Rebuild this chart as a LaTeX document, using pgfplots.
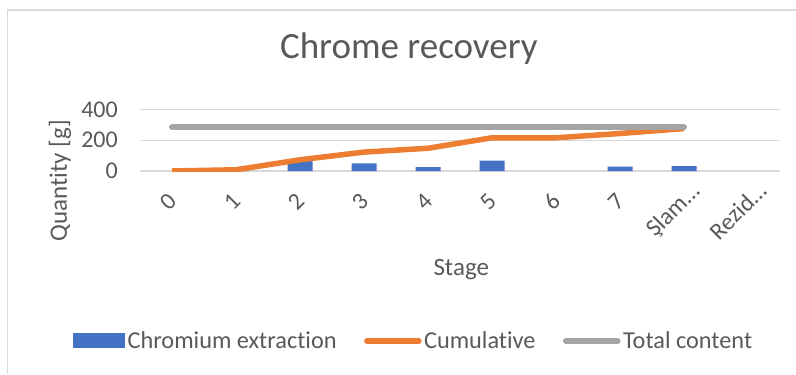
\documentclass[border=0pt]{standalone}
\usepackage{fontspec}
\setmainfont{Carlito}[Ligatures=NoCommon]
\usepackage{pgfplots}
\pgfplotsset{compat=1.18}
\definecolor{barblue}{HTML}{4472C4}
\definecolor{cumorange}{HTML}{ED7D31}
\definecolor{totalgray}{HTML}{A5A5A5}
\definecolor{gridgray}{HTML}{D9D9D9}
\definecolor{textgray}{HTML}{595959}

% chromium extracted per stage [g] (stages 0 and 6 yield nothing)
\pgfplotstableread{
x y
1 8
2 65
3 50
4 25
5 68
7 28
8 32
}\extraction
% running total [g]
\pgfplotstableread{
x y
0 0
1 8
2 73
3 123
4 148
5 216
6 216
7 244
8 276
}\cumulative
% chromium content of the input [g]
\pgfplotstableread{
x y
0 285
1 285
2 285
3 285
4 285
5 285
6 285
7 285
8 285
}\totalcontent

\begin{document}
\begin{tikzpicture}[x=1bp,y=1bp]
\useasboundingbox (0,0) rectangle (796,374);
\draw[gridgray, line width=1.3bp] (7.5,0) -- (7.5,364) -- (796,364);
\begin{axis}[
  at={(140bp,203bp)}, anchor=south west,
  scale only axis, width=640bp, height=61.5bp,
  xmin=-0.5, xmax=9.5, ymin=0, ymax=400,
  xtick={0,...,7},
  xticklabels={0,1,2,3,4,5,6,7},
  extra x ticks={8,9},
  extra x tick labels={Şlam…,Rezid…},
  % the longer labels sit a little lower and to the left (shift given in the rotated frame)
  extra x tick style={xticklabel style={xshift=-10.6bp, yshift=-2.1bp}},
  ytick={0,200,400},
  axis line style={draw=none},
  major tick length=0pt,
  ymajorgrids, grid style={gridgray, line width=1.3bp},
  /pgf/number format/assume math mode=true,
  every tick label/.append style={font=\fontsize{24bp}{28bp}\selectfont, text=textgray},
  yticklabel style={anchor=east, inner sep=0pt, xshift=-22bp},
  xticklabel style={inner sep=0pt, yshift=-31bp, xshift=-4bp, rotate=45, anchor=center},
  title={Chrome recovery},
  title style={at={(axis description cs:0.42,1.886)}, anchor=center,
    font=\fontsize{37bp}{42bp}\selectfont, text=textgray},
  xlabel={Stage},
  xlabel style={at={(axis description cs:0.502,-1.61)}, anchor=center,
    font=\fontsize{25bp}{30bp}\selectfont, text=textgray},
  ylabel={Quantity [g]},
  ylabel style={at={(axis description cs:-0.125,-0.16)}, anchor=center,
    font=\fontsize{25bp}{30bp}\selectfont, text=textgray},
  legend columns=3,
  legend style={at={(axis description cs:0.428,-2.764)}, anchor=center,
    draw=none, fill=none, inner sep=0pt,
    font=\fontsize{24.3bp}{28bp}\selectfont, text=textgray,
    nodes={inner sep=2.5bp},
    /tikz/every even column/.append style={column sep=25bp}},
  legend cell align=left,
]
\addplot[ybar, bar width=25bp, bar shift=0pt, fill=barblue, draw=none,
  legend image code/.code={\fill[barblue] (0bp,-7.5bp) rectangle (52bp,7.5bp);}]
  table[x=x, y=y] {\extraction};
\addlegendentry{Chromium extraction}
\addplot[cumorange, line width=5.5bp, line join=round, line cap=butt,
  legend image code/.code={\draw[cumorange, line width=5.5bp, line cap=round] (3bp,0bp) -- (55bp,0bp);}]
  table[x=x, y=y] {\cumulative};
\addlegendentry{Cumulative}
\addplot[totalgray, line width=6bp, line join=round, line cap=round,
  legend image code/.code={\draw[totalgray, line width=5.5bp, line cap=round] (3bp,0bp) -- (55bp,0bp);}]
  table[x=x, y=y] {\totalcontent};
\addlegendentry{Total content}
\end{axis}
\end{tikzpicture}
\end{document}
